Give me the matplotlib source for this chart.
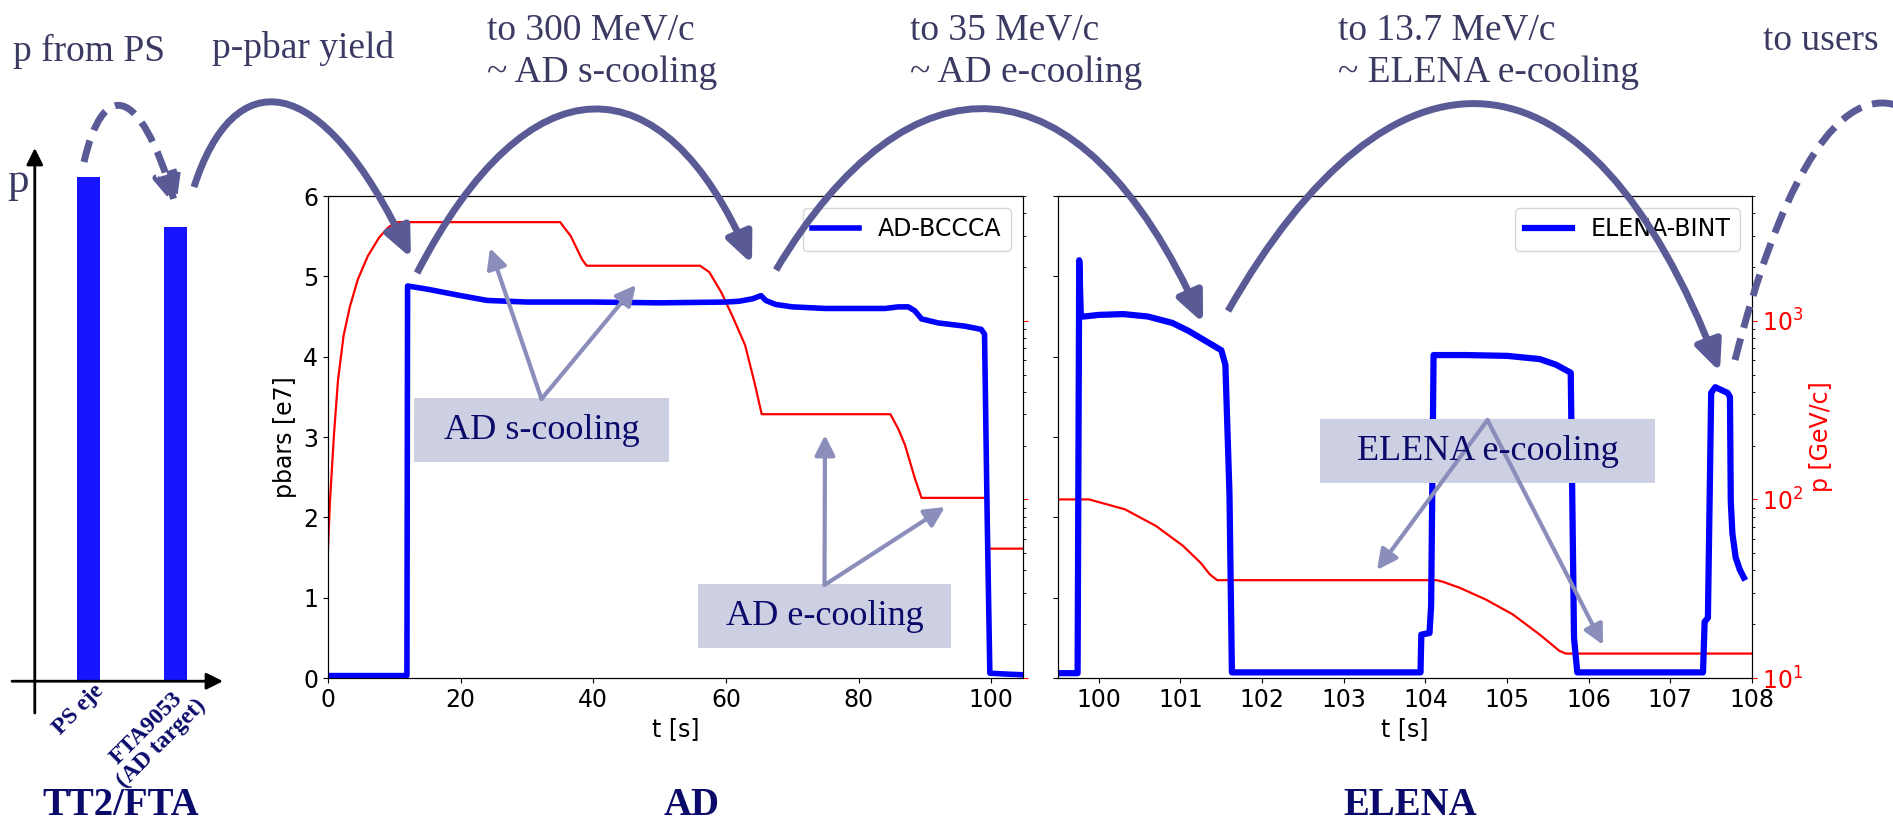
import matplotlib.pyplot as plt
from matplotlib.patches import FancyArrowPatch, Rectangle
from matplotlib.path import Path
from matplotlib.ticker import NullFormatter

W, H = 1893, 822

# schematic proton momentum before the target
bar_names = ['PS eje', 'FTA9053\n(AD target)']
bar_p = [1.0, 0.9]

# AD: intensity [e7] vs time
ad_t = [0, 11.9, 12.0, 15, 20, 24, 30, 40, 50, 60, 62, 64, 65.3, 66.0, 67.5, 70, 75,
        80, 84, 86, 87.5, 88.5, 89.5, 92, 96, 98.5, 99.0, 99.4, 99.8, 102, 104.8]
ad_pbars = [0.03, 0.03, 4.88, 4.84, 4.76, 4.70, 4.68, 4.68, 4.67, 4.68, 4.69, 4.72, 4.76,
            4.70, 4.65, 4.62, 4.60, 4.60, 4.60, 4.62, 4.62, 4.57, 4.47, 4.42, 4.38, 4.34,
            4.28, 2.0, 0.06, 0.05, 0.04]
# AD: momentum
ad_tp = [0, 0.3, 0.9, 1.5, 2.35, 3.3, 4.5, 6, 7.7, 9, 10.2, 35.0, 36.6, 38.3, 39.0, 56.1,
         57.5, 59.3, 61, 62.9, 64.3, 65.4, 84.8, 86.0, 87.0, 88.5, 89.5, 99.3, 99.6, 104.8]
ad_p = [53, 98, 231, 462, 826, 1200, 1706, 2304, 2924, 3311, 3570, 3570, 2985, 2211, 2035,
        2035, 1873, 1445, 1059, 730, 453, 300, 300, 248, 202, 131, 102, 102, 53, 53]

# ELENA: intensity [e7] vs time
el_t = [99.5, 99.74, 99.76, 99.78, 99.82, 100.0, 100.3, 100.6, 100.9, 101.1, 101.3, 101.5,
        101.55, 101.6, 101.63, 103.94, 103.95, 104.05, 104.07, 104.1, 104.5, 105.0, 105.4,
        105.6, 105.78, 105.82, 105.86, 107.4, 107.42, 107.46, 107.5, 107.55, 107.7, 107.73,
        107.74, 107.76, 107.8, 107.85, 107.9]
el_pbars = [0.06, 0.06, 5.2, 4.5, 4.5, 4.52, 4.53, 4.50, 4.42, 4.32, 4.20, 4.08, 3.9, 2.3,
            0.07, 0.07, 0.54, 0.56, 0.9, 4.02, 4.02, 4.01, 3.97, 3.90, 3.80, 0.5, 0.07, 0.07,
            0.7, 0.75, 3.55, 3.62, 3.55, 3.5, 2.2, 1.8, 1.5, 1.35, 1.25]
# ELENA: momentum
el_tp = [99.5, 99.88, 99.95, 100.32, 100.70, 101.03, 101.25, 101.36, 101.45, 104.14,
         104.22, 104.42, 104.74, 105.07, 105.40, 105.64, 105.72, 108.0]
el_p = [100, 100, 98, 88, 71, 55, 44, 38, 35.3, 35.3, 34.5, 32.0, 27.5, 22.7, 17.5, 14.2,
        13.7, 13.7]

plt.rcParams.update({'font.size': 17, 'xtick.labelsize': 17, 'ytick.labelsize': 17,
                     'axes.labelsize': 17, 'legend.fontsize': 17})

SERIF = 'Liberation Serif'
TXT = '#3a3a63'
ARC = '#5a5b96'
LIGHT = '#8b8dbb'
BOXC = '#cdd0e3'
NAVY = '#0a0a6a'

fig = plt.figure(figsize=(W / 100, H / 100), dpi=100)


def frac(l, t, r, b):
    return [l / W, 1 - b / H, (r - l) / W, (b - t) / H]


ax_ad = fig.add_axes(frac(328, 196, 1023, 678))
ax_el = fig.add_axes(frac(1058, 196, 1752, 678), sharey=ax_ad)

panels = [(ax_ad, ad_t, ad_pbars, ad_tp, ad_p, 'AD-BCCCA', (0, 104.8), 4),
          (ax_el, el_t, el_pbars, el_tp, el_p, 'ELENA-BINT', (99.5, 108), 4.5)]
twins = []
for ax, t, n, tp, p, lab, xl, lw in panels:
    ax.plot(t, n, color='blue', lw=lw, label=lab)
    ax.set_xlim(*xl)
    ax.set_ylim(0, 6)
    ax.set_xlabel('t [s]')
    ax.legend(loc='upper right')
    tw = ax.twinx()
    tw.semilogy(tp, p, color='red', lw=1.6)
    tw.set_ylim(10, 5000)
    tw.yaxis.set_minor_formatter(NullFormatter())
    tw.tick_params(axis='y', which='major', colors='red')
    tw.set_zorder(ax.get_zorder() - 1)
    ax.patch.set_visible(False)
    twins.append(tw)

ax_ad.set_ylabel('pbars [e7]')
ax_el.set_xticks(range(100, 109))
ax_el.tick_params(labelleft=False)
twins[0].tick_params(labelright=False)
twins[1].set_ylabel('p [GeV/c]', color='red')

# left schematic bar panel
ax_b = fig.add_axes(frac(12, 148, 223, 713))
ax_b.bar(range(len(bar_p)), bar_p, width=0.264, color='#1515ff')
ax_b.set_xlim(-0.879, 1.547)
ax_b.set_ylim(-0.063, 1.057)
ax_b.axis('off')
axis_arrow = dict(arrowstyle='-|>', color='k', lw=2, mutation_scale=25, shrinkA=0, shrinkB=0)
ax_b.annotate('', xy=(1, 0), xycoords=('axes fraction', 'data'),
              xytext=(0, 0), textcoords=('axes fraction', 'data'), arrowprops=axis_arrow)
ax_b.annotate('', xy=(-0.617, 1), xycoords=('data', 'axes fraction'),
              xytext=(-0.617, 0), textcoords=('data', 'axes fraction'), arrowprops=axis_arrow)
for i, name in enumerate(bar_names):
    ax_b.text(i + 0.05, 0.002, name, rotation=45, ha='right', va='top',
              rotation_mode='anchor', multialignment='center', linespacing=1.0,
              family=SERIF, fontsize=17, fontweight='bold', color=NAVY)

# overlay for annotations, in pixel coordinates
ov = fig.add_axes([0, 0, 1, 1], zorder=10)
ov.set_xlim(0, W)
ov.set_ylim(H, 0)
ov.axis('off')

top_texts = [(13, 61, 'p from PS'), (212, 58, 'p-pbar yield'),
             (487, 39, 'to 300 MeV/c'), (487, 82, '~ AD s-cooling'),
             (910, 39, 'to 35 MeV/c'), (910, 82, '~ AD e-cooling'),
             (1338, 39, 'to 13.7 MeV/c'), (1338, 82, '~ ELENA e-cooling'),
             (1763, 50, 'to users')]
for x, y, s in top_texts:
    ov.text(x, y, s, ha='left', va='baseline', family=SERIF, fontsize=27, color=TXT)
ov.text(7, 192, 'p', ha='left', va='baseline', family=SERIF, fontsize=31, color=TXT)

for x, s in [(121, 'TT2/FTA'), (692, 'AD'), (1410, 'ELENA')]:
    ov.text(x, 815, s, ha='center', va='baseline', family=SERIF, fontsize=28,
            fontweight='bold', color=NAVY)

# big curved arrows: start, peak, end, dashed, head
arcs = [((84, 162), (123, 107), (176, 207), True, True),
        ((194, 187), (283, 104), (411, 258), False, True),
        ((417, 273), (593, 110), (752, 264), False, True),
        ((776, 270), (993, 110), (1203, 323), False, True),
        ((1228, 311), (1485, 105), (1720, 372), False, True),
        ((1735, 360), (1882, 103), (2030, 360), True, False)]
for (x0, y0), (xm, ym), (x3, y3), dashed, head in arcs:
    yc = (8 * ym - y0 - y3) / 6
    a = 0.3 * (x3 - x0)
    d = (8 * xm - 4 * x0 - 4 * x3) / 6
    verts = [(x0, y0), (x0 + a + d, yc), (x3 - a + d, yc), (x3, y3)]
    path = Path(verts, [Path.MOVETO, Path.CURVE4, Path.CURVE4, Path.CURVE4])
    style = '-|>,head_length=0.45,head_width=0.2' if head else '-'
    arr = FancyArrowPatch(path=path, arrowstyle=style, mutation_scale=40, color=ARC,
                          lw=5, linestyle=(0, (3.2, 1.6)) if dashed else '-',
                          capstyle='butt')
    ov.add_patch(arr)

# labelled boxes with pointer arrows
boxes = [((414, 398, 669, 462), 'AD s-cooling', [(490, 248), (636, 285)]),
         ((698, 584, 951, 648), 'AD e-cooling', [(825, 435), (945, 507)]),
         ((1320, 419, 1655, 483), 'ELENA e-cooling', [(1377, 570), (1603, 645)])]
for (l, t, r, b), s, tips in boxes:
    cx = (l + r) / 2
    for tip in tips:
        ov.annotate('', xy=tip, xytext=(cx, t + 1),
                    arrowprops=dict(arrowstyle='-|>', color=LIGHT, lw=3,
                                    mutation_scale=30, shrinkA=0, shrinkB=0))
    ov.add_patch(Rectangle((l, t), r - l, b - t, facecolor=BOXC, edgecolor='none'))
    ov.text(cx, (t + b) / 2, s, ha='center', va='center', family=SERIF, fontsize=26,
            color=NAVY)

fig.savefig('out.png', dpi=100)
